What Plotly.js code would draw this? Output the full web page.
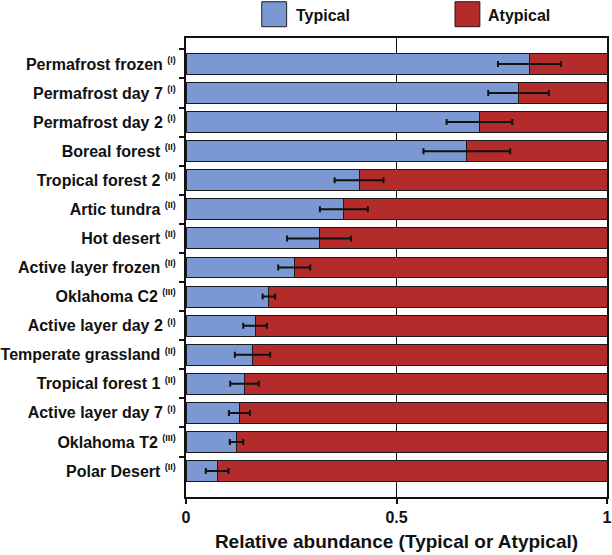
<!DOCTYPE html>
<html>
<head>
<meta charset="utf-8">
<script src="https://cdn.plot.ly/plotly-3.0.1.min.js"></script>
<style>html,body{margin:0;padding:0;background:#fff;}#chart{width:612px;height:555px;}</style>
</head>
<body>
<div id="chart"></div>
<script>
// ---- data ----
const sites = ["Permafrost frozen", "Permafrost day 7", "Permafrost day 2", "Boreal forest",
  "Tropical forest 2", "Artic tundra", "Hot desert", "Active layer frozen", "Oklahoma C2",
  "Active layer day 2", "Temperate grassland", "Tropical forest 1", "Active layer day 7",
  "Oklahoma T2", "Polar Desert"];
const groups = ["(I)", "(I)", "(I)", "(II)", "(II)", "(II)", "(II)", "(II)", "(III)",
  "(I)", "(II)", "(II)", "(I)", "(III)", "(II)"];
const typical = [0.816, 0.790, 0.697, 0.667, 0.411, 0.375, 0.316, 0.257, 0.197,
  0.164, 0.158, 0.139, 0.127, 0.120, 0.074];
const atypical = [0.184, 0.210, 0.303, 0.333, 0.589, 0.625, 0.684, 0.743, 0.803,
  0.836, 0.842, 0.861, 0.873, 0.880, 0.926];
const typicalErr = [0.075, 0.072, 0.078, 0.103, 0.058, 0.057, 0.076, 0.038, 0.015,
  0.028, 0.042, 0.034, 0.025, 0.016, 0.027];
const xTicks = [0, 0.5, 1];
const xTickLabels = ["0", "0.5", "1"];

// ---- style ----
const BLUE = "#7b98d2";
const RED = "#b32b2b";
const EDGE = "#1a1a1a";
const FONT = "Liberation Sans, Arial, sans-serif";

const labels = sites.map((s, i) =>
  "<b>" + s + " <sup><span style=\"font-size:9px\">" + groups[i] + "</span></sup></b>");

const traces = [
  {type: "bar", orientation: "h", name: "Typical", y: labels, x: typical,
   marker: {color: BLUE, line: {color: EDGE, width: 1}}, hoverinfo: "x+y"},
  {type: "bar", orientation: "h", name: "Atypical", y: labels, x: atypical,
   marker: {color: RED, line: {color: EDGE, width: 1}}, hoverinfo: "x+y"},
  {type: "scatter", mode: "markers", y: labels, x: typical, showlegend: false,
   marker: {size: 1, opacity: 0},
   error_x: {type: "data", array: typicalErr, visible: true, color: "#111", thickness: 2, width: 3},
   hoverinfo: "skip"}
];

const layout = {
  width: 612, height: 555,
  margin: {l: 186, r: 5, t: 38, b: 58},
  paper_bgcolor: "#fff", plot_bgcolor: "#fff",
  barmode: "stack", bargap: 0.28,
  showlegend: false,
  font: {family: FONT, color: "#111"},
  xaxis: {
    range: [0, 1], tickvals: xTicks, ticktext: xTickLabels.map(t => "<b>" + t + "</b>"),
    ticks: "outside", ticklen: 5, tickwidth: 2, tickcolor: "#111",
    showgrid: true, gridcolor: "#111", gridwidth: 1,
    showline: true, linecolor: "#111", linewidth: 2, mirror: true,
    zeroline: false, tickfont: {size: 16, family: FONT, color: "#111"},
    title: {text: "<b>Relative abundance (Typical or Atypical)</b>", font: {size: 19, family: FONT, color: "#111"}, standoff: 9},
    fixedrange: true
  },
  yaxis: {
    type: "category", autorange: "reversed",
    ticks: "outside", tickson: "boundaries", ticklen: 5, tickwidth: 2, tickcolor: "#111",
    ticklabelstandoff: 5,
    showline: true, linecolor: "#111", linewidth: 2, mirror: true,
    showgrid: false, tickfont: {size: 16, family: FONT, color: "#111"},
    fixedrange: true
  },
  shapes: [
    {type: "rect", xref: "paper", yref: "paper", x0: 0.180, x1: 0.239, y0: 1.0246, y1: 1.079,
     fillcolor: BLUE, line: {color: EDGE, width: 1}},
    {type: "rect", xref: "paper", yref: "paper", x0: 0.639, x1: 0.698, y0: 1.0246, y1: 1.079,
     fillcolor: RED, line: {color: EDGE, width: 1}}
  ],
  annotations: [
    {xref: "paper", yref: "paper", x: 0.2565, y: 1.050, xanchor: "left", yanchor: "middle",
     text: "<b>Typical</b>", showarrow: false, font: {size: 16, family: FONT, color: "#111"}},
    {xref: "paper", yref: "paper", x: 0.7126, y: 1.050, xanchor: "left", yanchor: "middle",
     text: "<b>Atypical</b>", showarrow: false, font: {size: 16, family: FONT, color: "#111"}}
  ]
};

Plotly.newPlot("chart", traces, layout, {displayModeBar: false, staticPlot: true});
</script>
</body>
</html>
